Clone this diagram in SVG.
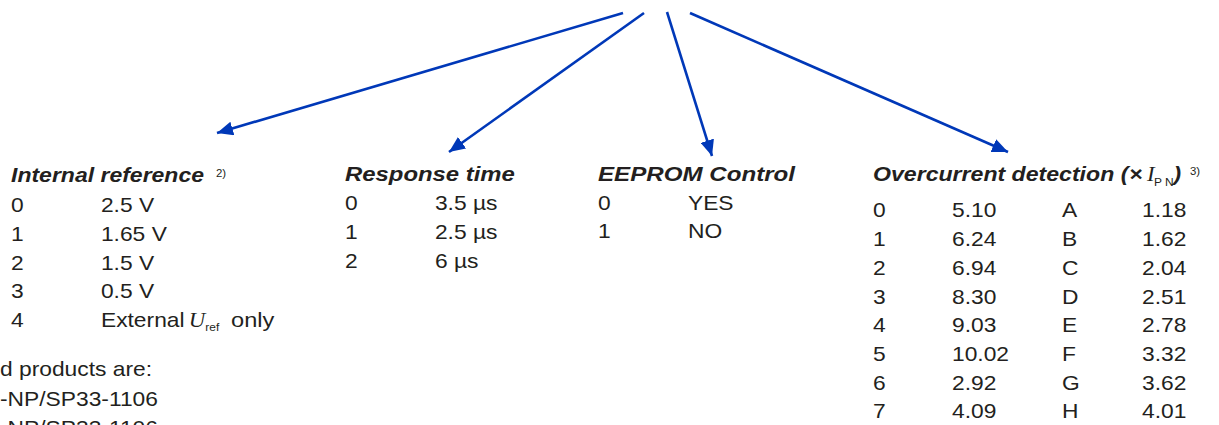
<svg xmlns="http://www.w3.org/2000/svg" width="1219" height="425" viewBox="0 0 1219 425">
  <style>
    text { font-family: "Liberation Sans", Arial, sans-serif; fill: #231f20; font-size: 20px; }
    .t { font-weight: bold; font-style: italic; }
    .b { font-weight: bold; }
    .sup { font-size: 10px; }
    .sym { font-family: "Liberation Serif", "Times New Roman", serif; font-style: italic; }
    .sub { font-size: 10.5px; }
    .subr { font-size: 10.5px; }
    .conn { stroke: #0038b8; stroke-width: 2.6; fill: none; marker-end: url(#ah); }
  </style>
  <defs>
    <marker id="ah" markerUnits="userSpaceOnUse" markerWidth="17" markerHeight="14" refX="16" refY="7" orient="auto">
      <path d="M0,0 L16,7 L0,14 Z" fill="#0038b8"/>
    </marker>
  </defs>
  <rect width="1219" height="425" fill="#ffffff"/>

  <g id="connectors">
    <line class="conn" x1="623" y1="13" x2="217" y2="133"/>
    <line class="conn" x1="644" y1="13" x2="449" y2="152"/>
    <line class="conn" x1="667" y1="12" x2="712" y2="156"/>
    <line class="conn" x1="690" y1="13" x2="1008" y2="152"/>
  </g>

  <g id="internal-reference" transform="translate(11,0) scale(1.14,1)">
    <text class="t" x="0" y="182.5" textLength="169.3" lengthAdjust="spacingAndGlyphs">Internal reference</text>
    <text class="sup" x="179.8" y="177">2)</text>
    <text x="0" y="212.5">0</text><text x="78.9" y="212.5">2.5 V</text>
    <text x="0" y="241">1</text><text x="78.9" y="241">1.65 V</text>
    <text x="0" y="270">2</text><text x="78.9" y="270">1.5 V</text>
    <text x="0" y="298.5">3</text><text x="78.9" y="298.5">0.5 V</text>
    <text x="0" y="327.5">4</text><text x="78.9" y="327.5">External</text>
    <text class="sym" x="156" y="327.5">U</text>
    <text class="subr" x="170.5" y="331">ref</text>
    <text x="193" y="327.5" textLength="38" lengthAdjust="spacingAndGlyphs">only</text>
  </g>

  <g id="response-time" transform="translate(345,0) scale(1.14,1)">
    <text class="t" x="0" y="181" textLength="149" lengthAdjust="spacingAndGlyphs">Response time</text>
    <text x="0" y="210">0</text><text x="78.9" y="210">3.5 µs</text>
    <text x="0" y="239">1</text><text x="78.9" y="239">2.5 µs</text>
    <text x="0" y="268">2</text><text x="78.9" y="268">6 µs</text>
  </g>

  <g id="eeprom-control" transform="translate(598,0) scale(1.14,1)">
    <text class="t" x="0" y="181" textLength="172.8" lengthAdjust="spacingAndGlyphs">EEPROM Control</text>
    <text x="0" y="210">0</text><text x="78.9" y="210">YES</text>
    <text x="0" y="238.5">1</text><text x="78.9" y="238.5">NO</text>
  </g>

  <g id="overcurrent-detection" transform="translate(873,0) scale(1.14,1)">
    <text class="t" x="0" y="181" textLength="224" lengthAdjust="spacingAndGlyphs">Overcurrent detection (</text>
    <text class="b" x="225" y="181">×</text>
    <text class="sym" x="240.4" y="181">I</text>
    <text class="sub" x="246.5" y="186">P N</text>
    <text class="t" x="263.5" y="181">)</text>
    <text class="sup" x="278" y="175">3)</text>
    <text x="0" y="217.5">0</text><text x="69.3" y="217.5">5.10</text><text x="165.8" y="217.5">A</text><text x="236" y="217.5">1.18</text>
    <text x="0" y="246.2">1</text><text x="69.3" y="246.2">6.24</text><text x="165.8" y="246.2">B</text><text x="236" y="246.2">1.62</text>
    <text x="0" y="274.9">2</text><text x="69.3" y="274.9">6.94</text><text x="165.8" y="274.9">C</text><text x="236" y="274.9">2.04</text>
    <text x="0" y="303.6">3</text><text x="69.3" y="303.6">8.30</text><text x="165.8" y="303.6">D</text><text x="236" y="303.6">2.51</text>
    <text x="0" y="332.3">4</text><text x="69.3" y="332.3">9.03</text><text x="165.8" y="332.3">E</text><text x="236" y="332.3">2.78</text>
    <text x="0" y="361">5</text><text x="69.3" y="361">10.02</text><text x="165.8" y="361">F</text><text x="236" y="361">3.32</text>
    <text x="0" y="389.7">6</text><text x="69.3" y="389.7">2.92</text><text x="165.8" y="389.7">G</text><text x="236" y="389.7">3.62</text>
    <text x="0" y="418.4">7</text><text x="69.3" y="418.4">4.09</text><text x="165.8" y="418.4">H</text><text x="236" y="418.4">4.01</text>
  </g>

  <g id="products-note" transform="translate(0,0) scale(1.14,1)">
    <text x="0" y="376.5">d products are:</text>
    <text x="0" y="406">-NP/SP33-1106</text>
    <text x="0" y="435">-NP/SP33-1106</text>
  </g>
</svg>
